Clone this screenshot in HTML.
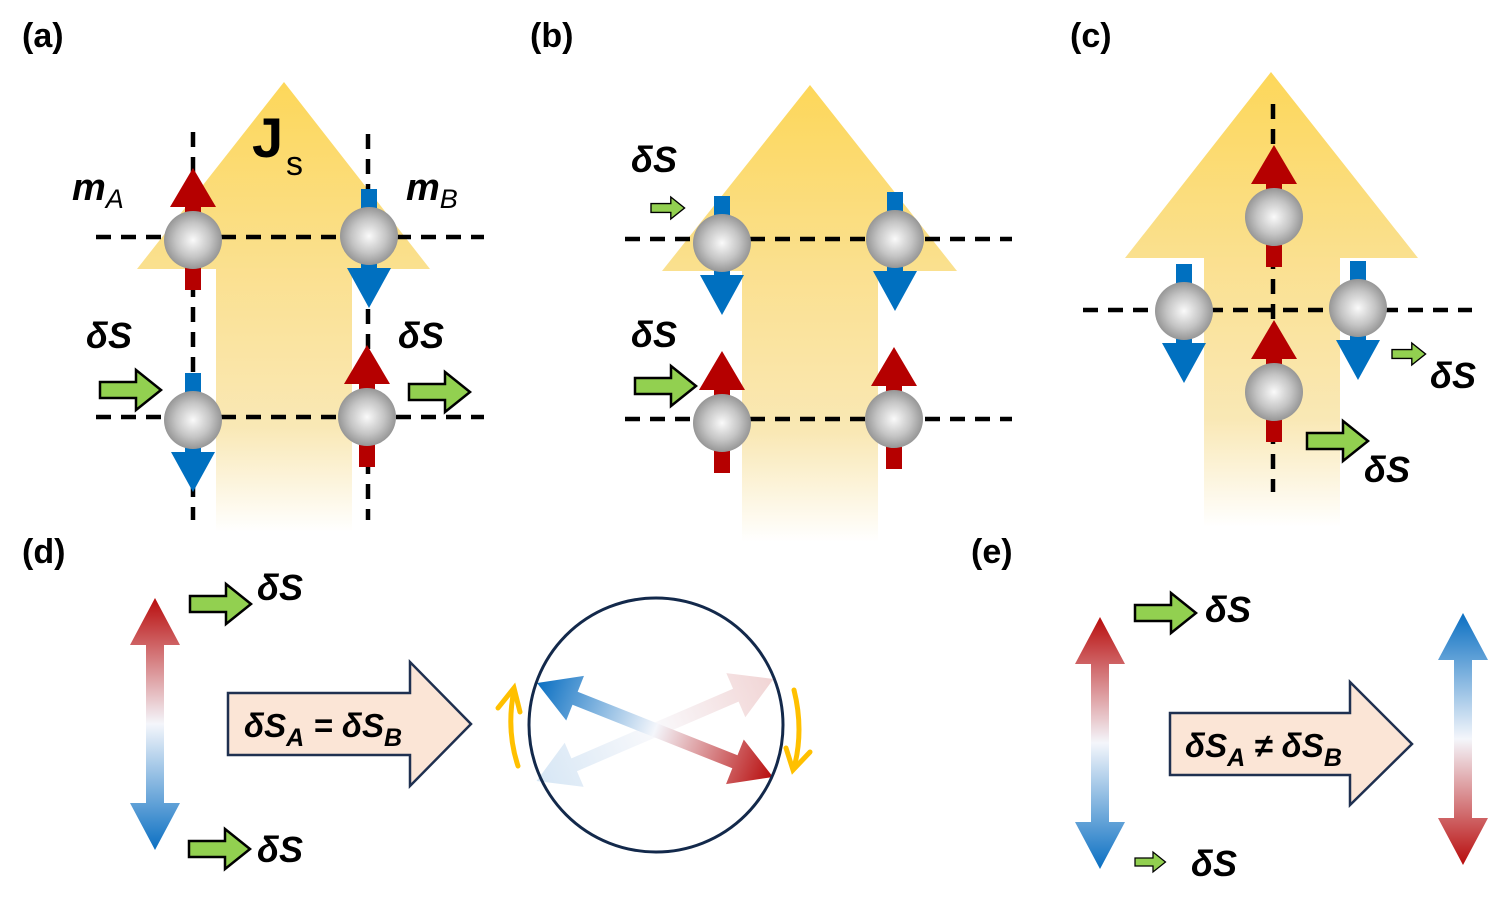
<!DOCTYPE html>
<html><head><meta charset="utf-8"><style>
html,body{margin:0;padding:0;background:#fff;}
svg{display:block;}
text{font-family:"Liberation Sans",sans-serif;fill:#000;}
.lab{font-weight:bold;font-size:34px;}
.ds{font-weight:bold;font-style:italic;font-size:36px;}
</style></head><body>
<svg width="1502" height="909" viewBox="0 0 1502 909" xmlns="http://www.w3.org/2000/svg">
<defs>
<radialGradient id="ball" cx="0.5" cy="0.5" r="0.5">
<stop offset="0" stop-color="#fafafa"/><stop offset="0.6" stop-color="#c4c4c4"/><stop offset="1" stop-color="#969696"/>
</radialGradient>
<linearGradient id="head" x1="0" y1="0" x2="0" y2="1"><stop offset="0" stop-color="#fdd75a"/><stop offset="1" stop-color="#fae08f"/></linearGradient>
<linearGradient id="shaft" x1="0" y1="0" x2="0" y2="1"><stop offset="0" stop-color="#fbe08f"/><stop offset="0.6" stop-color="#f9e8b5"/><stop offset="1" stop-color="#ffffff"/></linearGradient>
<linearGradient id="rb" x1="0" y1="0" x2="0" y2="1"><stop offset="0" stop-color="#b80c0c"/><stop offset="0.5" stop-color="#f4f6fb"/><stop offset="1" stop-color="#0a6fc2"/></linearGradient>
<linearGradient id="br" x1="0" y1="0" x2="0" y2="1"><stop offset="0" stop-color="#0a6fc2"/><stop offset="0.5" stop-color="#f4f6fb"/><stop offset="1" stop-color="#b80c0c"/></linearGradient>
<linearGradient id="hx" x1="0" y1="0" x2="1" y2="0"><stop offset="0" stop-color="#0a6fc2"/><stop offset="0.5" stop-color="#f4f6fb"/><stop offset="1" stop-color="#b80c0c"/></linearGradient>
<linearGradient id="hx2" x1="0" y1="0" x2="1" y2="0"><stop offset="0" stop-color="#cfe2f3"/><stop offset="0.5" stop-color="#f8f8fb"/><stop offset="1" stop-color="#efcdcd"/></linearGradient>
<g id="up"><path d="M-23,-33 L0,-72 L23,-33 Z" fill="#b50000"/><rect x="-8" y="-34" width="16" height="84" fill="#b50000"/><circle r="29" fill="url(#ball)"/></g>
<g id="dn"><rect x="-8" y="-47" width="16" height="80" fill="#0070c0"/><path d="M-22,32 L22,32 L0,72 Z" fill="#0070c0"/><circle r="29" fill="url(#ball)"/></g>
<path id="gr" d="M0,-8 H36 V-20 L61,0 L36,20 V8 H0 Z" fill="#92d050" stroke="#000" stroke-width="2.5"/>
<path id="dbl" d="M0,0 L25,47 L9,47 L9,205 L25,205 L0,252 L-25,205 L-9,205 L-9,47 L-25,47 Z"/>
</defs>

<!-- labels -->
<text class="lab" x="22" y="47">(a)</text>
<text class="lab" x="530" y="47">(b)</text>
<text class="lab" x="1070" y="47">(c)</text>
<text class="lab" x="22" y="563">(d)</text>
<text class="lab" x="971" y="563">(e)</text>

<!-- panel a -->
<path d="M284,82 L430,269 L137,269 Z" fill="url(#head)"/>
<rect x="216" y="268" width="136" height="264" fill="url(#shaft)"/>
<g stroke="#000" stroke-width="4.5" stroke-dasharray="15 10" fill="none">
<line x1="193" y1="132" x2="193" y2="520"/><line x1="368" y1="134" x2="368" y2="520"/>
<line x1="96" y1="237" x2="484" y2="237"/><line x1="96" y1="417" x2="484" y2="417"/>
</g>
<text x="252" y="157" font-size="56" font-weight="bold">J</text><text x="286" y="175" font-size="34">s</text>
<use href="#up" x="193" y="240"/><use href="#dn" x="369" y="236"/>
<use href="#dn" x="193" y="420"/><use href="#up" x="367" y="417"/>
<use href="#gr" x="100" y="390"/><use href="#gr" x="409" y="392"/>
<text x="72" y="200" font-size="38" font-weight="bold" font-style="italic">m<tspan font-size="27" font-weight="normal" dy="8">A</tspan></text>
<text x="406" y="200" font-size="38" font-weight="bold" font-style="italic">m<tspan font-size="27" font-weight="normal" dy="8">B</tspan></text>
<text class="ds" x="86" y="348">δS</text><text class="ds" x="398" y="348">δS</text>

<!-- panel b -->
<path d="M810,85 L957,271 L662,271 Z" fill="url(#head)"/>
<rect x="742" y="270" width="136" height="272" fill="url(#shaft)"/>
<g stroke="#000" stroke-width="4.5" stroke-dasharray="15 10" fill="none">
<line x1="625" y1="239" x2="1012" y2="239"/><line x1="625" y1="419" x2="1012" y2="419"/>
</g>
<use href="#dn" x="722" y="243"/><use href="#dn" x="895" y="239"/>
<use href="#up" x="722" y="423"/><use href="#up" x="894" y="419"/>
<use href="#gr" transform="translate(651,208) scale(0.55)"/><use href="#gr" x="635" y="386"/>
<text class="ds" x="631" y="172">δS</text><text class="ds" x="631" y="347">δS</text>

<!-- panel c -->
<path d="M1271,72 L1418,258 L1125,258 Z" fill="url(#head)"/>
<rect x="1204" y="257" width="136" height="270" fill="url(#shaft)"/>
<g stroke="#000" stroke-width="4.5" stroke-dasharray="15 10" fill="none">
<line x1="1273" y1="104" x2="1273" y2="492"/><line x1="1083" y1="310" x2="1472" y2="310"/>
</g>
<use href="#up" x="1274" y="217"/><use href="#dn" x="1184" y="311"/>
<use href="#dn" x="1358" y="308"/><use href="#up" x="1274" y="392"/>
<use href="#gr" transform="translate(1392,354) scale(0.55)"/><use href="#gr" x="1307" y="441"/>
<text class="ds" x="1430" y="388">δS</text><text class="ds" x="1364" y="482">δS</text>

<!-- panel d -->
<use href="#dbl" x="155" y="598" fill="url(#rb)"/>
<use href="#gr" x="190" y="604"/><use href="#gr" x="189" y="849"/>
<text class="ds" x="257" y="600">δS</text><text class="ds" x="257" y="862">δS</text>
<path d="M228,693 H410 V662 L471,724 L410,786 V755 H228 Z" fill="#fbe5d6" stroke="#1f3050" stroke-width="2.5"/>
<text x="244" y="737" font-size="33" font-weight="bold" font-style="italic">δS<tspan font-size="25" dy="9">A</tspan><tspan dy="-9"> = δS</tspan><tspan font-size="25" dy="9">B</tspan></text>
<g transform="translate(655,730) rotate(-23.3)" opacity="0.85">
<path d="M-129,0 L-88,-24 L-88,-7 L88,-7 L88,-24 L129,0 L88,24 L88,7 L-88,7 L-88,24 Z" fill="url(#hx2)"/>
</g>
<g transform="translate(655,730) rotate(21.7)">
<path d="M-127,0 L-86,-24 L-86,-7 L86,-7 L86,-24 L127,0 L86,24 L86,7 L-86,7 L-86,24 Z" fill="url(#hx)"/>
</g>
<circle cx="656" cy="725" r="127" fill="none" stroke="#13294b" stroke-width="3"/>
<g fill="none" stroke="#ffc000" stroke-width="5" stroke-linecap="round">
<path d="M518,766 Q506,730 514,690"/><path d="M498,708 L514,688 L520,712"/>
<path d="M794,690 Q804,730 794,768"/><path d="M786,748 L793,770 L810,752"/>
</g>

<!-- panel e -->
<use href="#dbl" x="1100" y="617" fill="url(#rb)"/>
<use href="#dbl" x="1463" y="613" fill="url(#br)"/>
<use href="#gr" x="1135" y="613"/><use href="#gr" transform="translate(1135,862) scale(0.5)"/>
<text class="ds" x="1205" y="622">δS</text><text class="ds" x="1191" y="876">δS</text>
<path d="M1170,713 H1350 V682 L1412,744 L1350,805 V775 H1170 Z" fill="#fbe5d6" stroke="#1f3050" stroke-width="2.5"/>
<text x="1185" y="757" font-size="33" font-weight="bold" font-style="italic">δS<tspan font-size="25" dy="9">A</tspan><tspan dy="-9"> ≠ δS</tspan><tspan font-size="25" dy="9">B</tspan></text>
</svg>
</body></html>
